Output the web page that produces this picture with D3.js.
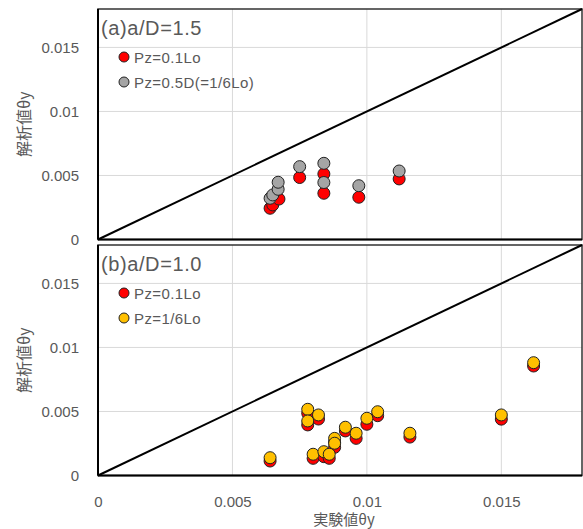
<!DOCTYPE html>
<html>
<head>
<meta charset="utf-8">
<script src="https://cdn.jsdelivr.net/npm/d3@7"></script>
<style>
  body { margin: 0; background: #fff; }
  svg { display: block; }
  text { font-family: "Liberation Sans", Arial, sans-serif; fill: #595959; }
  .jp { font-family: "Noto Sans CJK JP", sans-serif; }
</style>
</head>
<body>
<svg width="583" height="529"></svg>
<script>
// ticks
var xTicks = [0, 0.005, 0.01, 0.015]
var yTicks = [0, 0.005, 0.01, 0.015]
var tickLabels = ['0', '0.005', '0.01', '0.015']

// (a) a/D=1.5
var aRedX  = [0.0064, 0.0065, 0.00673, 0.0075, 0.0084, 0.0084, 0.0097, 0.0112]
var aRedY  = [0.00244, 0.0027, 0.00316, 0.00484, 0.00512, 0.00361, 0.0033, 0.00473]
var aGrayX = [0.0064, 0.0065, 0.0067, 0.0067, 0.0075, 0.0084, 0.0084, 0.0097, 0.0112]
var aGrayY = [0.00322, 0.00348, 0.00392, 0.00447, 0.00569, 0.00595, 0.00445, 0.0042, 0.00535]

// (b) a/D=1.0
var bX    = [0.0064, 0.0078, 0.0082, 0.0078, 0.0092, 0.0096, 0.0088, 0.0088, 0.0080, 0.0084, 0.0086, 0.0100, 0.0104, 0.0116, 0.0150, 0.0162]
var bRedY = [0.00113, 0.00486, 0.00441, 0.00395, 0.00348, 0.0029, 0.0026, 0.0022, 0.00134, 0.00147, 0.00134, 0.0040, 0.00467, 0.0030, 0.0044, 0.00855]
var bYelY = [0.00139, 0.00517, 0.00473, 0.00426, 0.00377, 0.0033, 0.0029, 0.00252, 0.00166, 0.00186, 0.00166, 0.00447, 0.00498, 0.0033, 0.00473, 0.00881]

var svg = d3.select('svg')
var x = d3.scaleLinear().domain([0, 0.018]).range([98, 582])

var panels = [
    {top: 9, bottom: 239.5, title: '(a)a/D=1.5',
     series: [
        {name: 'Pz=0.1Lo', color: '#ff0000', xs: aRedX, ys: aRedY},
        {name: 'Pz=0.5D(=1/6Lo)', color: '#a5a5a5', xs: aGrayX, ys: aGrayY}
     ]},
    {top: 245, bottom: 475.5, title: '(b)a/D=1.0',
     series: [
        {name: 'Pz=0.1Lo', color: '#ff0000', xs: bX, ys: bRedY},
        {name: 'Pz=1/6Lo', color: '#ffc000', xs: bX, ys: bYelY}
     ]}
]

panels.forEach(function(p){
    var y = d3.scaleLinear().domain([0, 0.018]).range([p.bottom, p.top])
    var g = svg.append('g')

    // grid
    g.selectAll('.vg').data(xTicks.slice(1)).enter().append('line')
        .attr('x1', function(d){ return x(d) }).attr('x2', function(d){ return x(d) })
        .attr('y1', p.top).attr('y2', p.bottom)
        .attr('stroke', '#d9d9d9').attr('stroke-width', 1)
    g.selectAll('.hg').data(yTicks.slice(1)).enter().append('line')
        .attr('x1', x(0)).attr('x2', x(0.018))
        .attr('y1', function(d){ return y(d) }).attr('y2', function(d){ return y(d) })
        .attr('stroke', '#d9d9d9').attr('stroke-width', 1)

    // y axis labels
    var ya = g.append('g').attr('transform', 'translate(' + (x(0) - 16) + ',0)')
        .call(d3.axisLeft(y).tickValues(yTicks).tickSize(0)
            .tickFormat(function(d,i){ return tickLabels[i] }))
    ya.select('.domain').remove()
    ya.selectAll('text').attr('font-size', 15).attr('fill', '#595959')
        .style('font-family', '"Liberation Sans", Arial, sans-serif')

    // frame
    g.append('rect').attr('x', x(0)).attr('y', p.top)
        .attr('width', x(0.018) - x(0)).attr('height', p.bottom - p.top)
        .attr('fill', 'none').attr('stroke', '#333').attr('stroke-width', 1.5)
    g.append('line').attr('x1', x(0)).attr('x2', x(0.018))
        .attr('y1', p.bottom).attr('y2', p.bottom)
        .attr('stroke', '#000').attr('stroke-width', 2)
    g.append('line').attr('x1', x(0)).attr('x2', x(0))
        .attr('y1', p.top).attr('y2', p.bottom)
        .attr('stroke', '#000').attr('stroke-width', 2)

    // 1:1 line
    g.append('line').attr('x1', x(0)).attr('y1', y(0))
        .attr('x2', x(0.018)).attr('y2', y(0.018))
        .attr('stroke', '#000').attr('stroke-width', 2)

    // points
    p.series.forEach(function(s){
        g.selectAll(null).data(s.xs).enter().append('circle')
            .attr('cx', function(d){ return x(d) })
            .attr('cy', function(d,i){ return y(s.ys[i]) })
            .attr('r', 6)
            .attr('fill', s.color)
            .attr('stroke', '#222').attr('stroke-width', 1)
    })

    // title
    g.append('text').attr('x', x(0) + 3).attr('y', p.top + 26)
        .attr('font-size', 20).attr('letter-spacing', 0.6).text(p.title)

    // legend
    p.series.forEach(function(s, i){
        var ly = p.top + 48 + i * 25
        g.append('circle').attr('cx', 124).attr('cy', ly).attr('r', 5)
            .attr('fill', s.color).attr('stroke', '#222').attr('stroke-width', 1)
        g.append('text').attr('x', 134).attr('y', ly + 5.5)
            .attr('font-size', 15).attr('letter-spacing', 0.4).text(s.name)
    })

    // y title
    g.append('text').attr('class', 'jp')
        .attr('transform', 'translate(30,' + ((p.top + p.bottom) / 2) + ') rotate(-90)')
        .attr('text-anchor', 'middle').attr('font-size', 16)
        .text('解析値θy')
})

// x axis labels
var xa = svg.append('g').attr('transform', 'translate(0,' + 493 + ')')
    .call(d3.axisBottom(x).tickValues(xTicks).tickSize(0)
        .tickFormat(function(d,i){ return tickLabels[i] }))
xa.select('.domain').remove()
xa.selectAll('text').attr('font-size', 15).attr('fill', '#595959')
    .style('font-family', '"Liberation Sans", Arial, sans-serif')

svg.append('text').attr('class', 'jp')
    .attr('x', 344).attr('y', 525)
    .attr('text-anchor', 'middle').attr('font-size', 15)
    .text('実験値θy')
</script>
</body>
</html>
